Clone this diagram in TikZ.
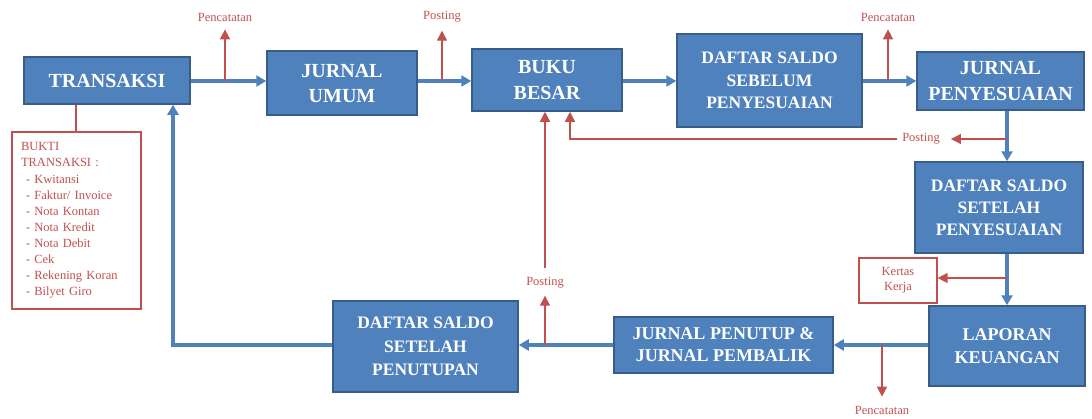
\documentclass[tikz,border=0pt]{standalone}
\usepackage{fontspec}
\setmainfont{Liberation Serif}
\usetikzlibrary{arrows.meta,calc}
\definecolor{boxblue}{HTML}{4F81BD}
\definecolor{boxedge}{HTML}{385D8A}
\definecolor{notered}{HTML}{C0504D}
\newcommand\boxfont[2]{\fontsize{#1}{#2}\selectfont\bfseries}

\begin{document}
\begin{tikzpicture}[x=1pt,y=-1pt,
  stepbox/.style={draw=boxedge, line width=1.5pt, fill=boxblue, text=white,
    font=\boxfont{18}{22}, align=center, inner sep=0pt},
  flow/.style={draw=boxblue, line width=3.2pt,
    -{Triangle[length=10pt,width=11pt]}},
  note/.style={draw=notered, line width=1.3pt},
  notearrow/.style={note, -{Triangle[length=10pt,width=10pt]}},
  notetext/.style={text=notered, font=\fontsize{12.5}{15}\selectfont, inner sep=1pt}
]
\useasboundingbox (0,0) rectangle (1092,418);

% process boxes
\node[stepbox, minimum width=166, minimum height=47, font=\boxfont{20}{24}]
  (tr)  at (107,80.5)   {TRANSAKSI};
\node[stepbox, minimum width=150, minimum height=64, font=\boxfont{20}{25}]
  (ju)  at (342,83)     {JURNAL\\UMUM};
\node[stepbox, minimum width=150, minimum height=62, font=\boxfont{20}{26}]
  (bb)  at (547,80)     {BUKU\\BESAR};
\node[stepbox, minimum width=185, minimum height=93, font=\boxfont{17.5}{22.5}]
  (dsb) at (769.5,80.5) {DAFTAR SALDO\\SEBELUM\\PENYESUAIAN};
\node[stepbox, minimum width=167, minimum height=58, font=\boxfont{20}{26}]
  (jp)  at (1000.5,81)  {JURNAL\\PENYESUAIAN};
\node[stepbox, minimum width=168, minimum height=91, font=\boxfont{17.5}{22}]
  (dsp) at (999,207.5)  {DAFTAR SALDO\\SETELAH\\PENYESUAIAN};
\node[stepbox, minimum width=156, minimum height=80, font=\boxfont{18}{23}]
  (lap) at (1007,346)   {LAPORAN\\KEUANGAN};
\node[stepbox, minimum width=219, minimum height=56, font=\boxfont{18}{22}]
  (jpp) at (723.5,345)  {JURNAL PENUTUP \&\\JURNAL PEMBALIK};
\node[stepbox, minimum width=185, minimum height=91, font=\boxfont{17.5}{23.5}]
  (dst) at (425.5,346.5){DAFTAR SALDO\\SETELAH\\PENUTUPAN};

% source documents and worksheet
\node[draw=notered, line width=1.2pt, minimum width=129, minimum height=177,
  text width=111, align=left, inner sep=0pt, text=notered,
  font=\fontsize{12.5}{16}\selectfont] (bk) at (76.5,220.5)
  {BUKTI\\TRANSAKSI :\\[1pt]
   \hspace*{5pt}- Kwitansi\\
   \hspace*{5pt}- Faktur/ Invoice\\
   \hspace*{5pt}- Nota Kontan\\
   \hspace*{5pt}- Nota Kredit\\
   \hspace*{5pt}- Nota Debit\\
   \hspace*{5pt}- Cek\\
   \hspace*{5pt}- Rekening Koran\\
   \hspace*{5pt}- Bilyet Giro};
\node[draw=notered, line width=1.2pt, minimum width=78, minimum height=45,
  align=center, text=notered, inner sep=0pt,
  font=\fontsize{12.5}{15}\selectfont] (kk) at (898,280.5) {Kertas\\Kerja};

% red labels
\node[notetext] (t1) at (225,17)  {Pencatatan};
\node[notetext] (t2) at (442,17)  {Posting};
\node[notetext] (t3) at (888,17)  {Pencatatan};
\node[notetext] (t4) at (921,139) {Posting};
\node[notetext] (t5) at (545,283) {Posting};
\node[notetext] (t6) at (882,410) {Pencatatan};

% guide coordinates
\coordinate (top) at (0,81);
\coordinate (bot) at (0,345);
\coordinate (rx)  at (1007,0);
\coordinate (lx)  at (173,0);
\coordinate (bx)  at (570,0);
\coordinate (kx)  at (76,0);
\coordinate (p1)  at (225,81);
\coordinate (p2)  at (442,81);
\coordinate (p3)  at (888,81);
\coordinate (p4)  at (1007,139);
\coordinate (p5)  at (545,345);
\coordinate (p6)  at (882,345);
\coordinate (p7)  at (1007,278);

% main cycle
\draw[flow] (tr.east |- top) -- (ju.west |- top);
\draw[flow] (ju.east |- top) -- (bb.west |- top);
\draw[flow] (bb.east |- top) -- (dsb.west |- top);
\draw[flow] (dsb.east |- top) -- (jp.west |- top);
\draw[flow] (jp.south -| rx) -- (dsp.north -| rx);
\draw[flow] (dsp.south -| rx) -- (lap.north -| rx);
\draw[flow] (lap.west |- bot) -- (jpp.east |- bot);
\draw[flow] (jpp.west |- bot) -- (dst.east |- bot);
\draw[flow] (dst.west |- bot) -| (tr.south -| lx);

% side notes
\draw[notearrow, shorten >=7pt] (p1) -- (t1);
\draw[notearrow, shorten >=7pt] (p2) -- (t2);
\draw[notearrow, shorten >=7pt] (p3) -- (t3);
\draw[notearrow, shorten >=10pt] (p4) -- (t4);
\draw[notearrow, shorten <=4pt] (t4.west) -| (bb.south -| bx);
\draw[notearrow, shorten >=6pt] (p5) -- (t5);
\draw[notearrow, shorten <=8pt] (t5.north) -- (bb.south -| t5);
\draw[notearrow, shorten >=8pt] (p6) -- (t6);
\draw[notearrow] (p7) -- (kk.east |- p7);
\draw[note] (tr.south -| kx) -- (bk.north -| kx);
\end{tikzpicture}
\end{document}
